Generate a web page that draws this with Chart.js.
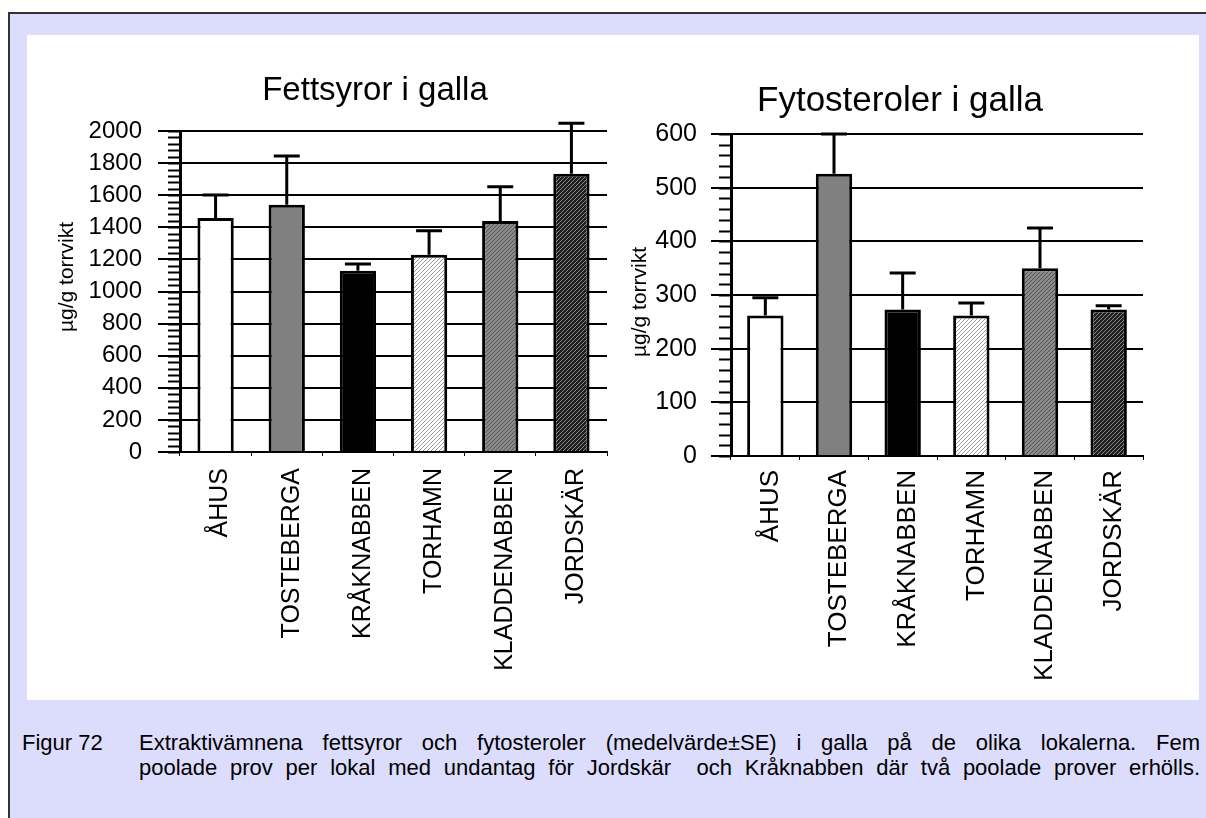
<!DOCTYPE html>
<html>
<head>
<meta charset="utf-8">
<script src="https://cdn.jsdelivr.net/npm/chart.js@4.4.1/dist/chart.umd.min.js"></script>
<style>
  body { margin: 0; width: 1206px; height: 818px; overflow: hidden; background: #fff;
         font-family: "Liberation Sans", Arial, sans-serif; }
  #frame { position: absolute; left: 8px; top: 12px; width: 1220px; height: 830px;
           border: 2px solid #333; background: #dcdcfc; }
  #panel { position: absolute; left: 27px; top: 35px; width: 1172px; height: 665px; background: #fff; }
  canvas { position: absolute; top: 40px; }
  #fett { left: 30px; }
  #fyto { left: 620px; }
  .cap { position: absolute; font-size: 22px; line-height: 26px; color: #000; white-space: nowrap; }
  .just { left: 139px; width: 1061px; text-align: justify; text-align-last: justify; white-space: normal; }
</style>
</head>
<body>
<div id="frame"></div>
<div id="panel"></div>
<canvas id="fett" width="590" height="640"></canvas>
<canvas id="fyto" width="580" height="640"></canvas>
<div class="cap" style="left:22px; top:730px;">Figur 72</div>
<div class="cap just" style="top:730px;">Extraktivämnena fettsyror och fytosteroler (medelvärde±SE) i galla på de olika lokalerna. Fem</div>
<div class="cap just" style="top:755px;">poolade prov per lokal med undantag för Jordskär&nbsp; och Kråknabben där två poolade prover erhölls.</div>
<script>
// lokaler
const categories = ['ÅHUS', 'TOSTEBERGA', 'KRÅKNABBEN', 'TORHAMN', 'KLADDENABBEN', 'JORDSKÄR'];

// fettsyror, µg/g torrvikt (medelvärde och SE)
const fettMean = [1458, 1541, 1130, 1229, 1439, 1734];
const fettSE = [143, 303, 41, 150, 214, 314];
const fettTicks = [0, 200, 400, 600, 800, 1000, 1200, 1400, 1600, 1800, 2000];

// fytosteroler, µg/g torrvikt
const fytoMean = [262, 526, 273, 262, 350, 273];
const fytoSE = [33, 74, 68, 23, 75, 7];
const fytoTicks = [0, 100, 200, 300, 400, 500, 600];

const FONT = "'Liberation Sans', Arial, sans-serif";
Chart.defaults.font.family = FONT;
Chart.defaults.color = '#000';

function hatch(bg, fg) {
  const c = document.createElement('canvas');
  c.width = c.height = 4;
  const g = c.getContext('2d');
  g.fillStyle = bg;
  g.fillRect(0, 0, 4, 4);
  g.strokeStyle = fg;
  g.lineWidth = 1;
  g.beginPath();
  g.moveTo(0, 4); g.lineTo(4, 0);
  g.moveTo(-2, 2); g.lineTo(2, -2);
  g.moveTo(2, 6); g.lineTo(6, 2);
  g.stroke();
  return g.createPattern(c, 'repeat');
}

const fills = ['#ffffff', '#808080', '#000000', hatch('#ffffff', '#9a9a9a'), hatch('#8a8a8a', '#555555'), hatch('#1e1e1e', '#8a8a8a')];

// SE-staplar, bara uppåt
const errorBars = {
  id: 'errorBars',
  afterDatasetsDraw(chart) {
    const ctx = chart.ctx;
    const ds = chart.data.datasets[0];
    const y = chart.scales.y;
    ctx.save();
    ctx.strokeStyle = '#000';
    ctx.lineWidth = 3;
    chart.getDatasetMeta(0).data.forEach((bar, i) => {
      const top = y.getPixelForValue(ds.data[i] + ds.se[i]);
      ctx.beginPath();
      ctx.moveTo(bar.x, bar.y);
      ctx.lineTo(bar.x, top);
      ctx.moveTo(bar.x - 13, top);
      ctx.lineTo(bar.x + 13, top);
      ctx.stroke();
    });
    ctx.restore();
  }
};

// små streck mellan huvudmarkeringarna på y-axeln
const minorTicks = {
  id: 'minorTicks',
  afterDraw(chart, args, opts) {
    const y = chart.scales.y;
    const ctx = chart.ctx;
    const x0 = chart.chartArea.left;
    const n = Math.round((y.max - y.min) / opts.step);
    ctx.save();
    ctx.strokeStyle = '#000';
    ctx.lineWidth = 2;
    for (let i = 0; i <= n; i++) {
      const py = Math.round(y.getPixelForValue(y.min + i * opts.step)) + 0.5;
      ctx.beginPath();
      ctx.moveTo(x0 - opts.length, py);
      ctx.lineTo(x0, py);
      ctx.stroke();
    }
    ctx.restore();
  }
};

// rubrik och y-axelns text
const texts = {
  id: 'texts',
  afterDraw(chart, args, o) {
    const ctx = chart.ctx;
    ctx.save();
    ctx.fillStyle = '#000';
    ctx.textAlign = 'center';
    ctx.textBaseline = 'alphabetic';
    ctx.font = o.titleSize + 'px ' + FONT;
    ctx.fillText(o.title, o.titleX, o.titleY);
    ctx.font = '21px ' + FONT;
    ctx.translate(o.axisX, o.axisY);
    ctx.rotate(-Math.PI / 2);
    ctx.fillText('µg/g torrvikt', 0, 0);
    ctx.restore();
  }
};

function makeChart(id, mean, se, ticks, s) {
  return new Chart(document.getElementById(id), {
    type: 'bar',
    data: {
      labels: categories,
      datasets: [{
        data: mean,
        se: se,
        backgroundColor: fills,
        borderColor: '#000',
        borderWidth: 3,
        barPercentage: s.bar,
        categoryPercentage: 1
      }]
    },
    options: {
      responsive: false,
      animation: false,
      layout: { padding: { top: s.top, left: 0, right: s.right, bottom: 0 } },
      plugins: {
        legend: { display: false },
        tooltip: { enabled: false },
        minorTicks: { step: s.minor, length: 12 },
        texts: s.texts
      },
      scales: {
        y: {
          min: ticks[0],
          max: ticks[ticks.length - 1],
          afterBuildTicks(scale) { scale.ticks = ticks.map(v => ({ value: v })); },
          ticks: { color: '#000', font: { size: s.tickSize }, padding: s.pad, callback: v => String(v) },
          grid: { color: '#000', lineWidth: 2, tickLength: s.tick },
          border: { color: '#000', width: 3 },
          afterFit(scale) { scale.width = s.yWidth; }
        },
        x: {
          ticks: { color: '#000', font: { size: s.labelSize }, minRotation: 90, maxRotation: 90, autoSkip: false, padding: s.xPad, labelOffset: 5 },
          grid: { display: true, drawOnChartArea: false, offset: true, tickLength: 4, color: '#000', lineWidth: 1 },
          border: { color: '#000', width: 2 },
          afterFit(scale) { scale.height = s.xHeight; }
        }
      }
    },
    plugins: [errorBars, minorTicks, texts]
  });
}

makeChart('fett', fettMean, fettSE, fettTicks, {
  bar: 0.51, top: 91, right: 13, minor: 40, pad: 16, tick: 22, yWidth: 150, xHeight: 228,
  tickSize: 24, labelSize: 25, xPad: 12,
  texts: { title: 'Fettsyror i galla', titleSize: 33, titleX: 345, titleY: 60, axisX: 43, axisY: 237 }
});
makeChart('fyto', fytoMean, fytoSE, fytoTicks, {
  bar: 0.53, top: 94, right: 57, minor: 20, pad: 14, tick: 20, yWidth: 111, xHeight: 224,
  tickSize: 25, labelSize: 26, xPad: 10,
  texts: { title: 'Fytosteroler i galla', titleSize: 35, titleX: 280, titleY: 71, axisX: 26, axisY: 262 }
});
</script>
</body>
</html>
